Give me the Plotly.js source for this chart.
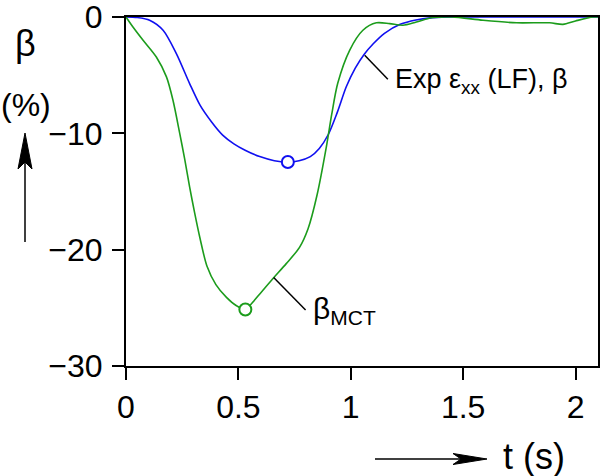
<!DOCTYPE html>
<html>
<head>
<meta charset="utf-8">
<script src="https://cdn.plot.ly/plotly-3.0.1.min.js"></script>
<style>html,body{margin:0;padding:0;background:#fff}#chart{width:600px;height:476px}</style>
</head>
<body>
<div id="chart"></div>
<script>
// Exp eps_xx (LF), beta  (blue)
const expT = [0, 0.05, 0.105, 0.165, 0.224, 0.283, 0.33, 0.38, 0.43, 0.48, 0.53, 0.595, 0.66, 0.72, 0.77, 0.82, 0.86, 0.9, 0.94, 0.98, 1.02, 1.06, 1.1, 1.15, 1.22, 1.29, 1.365, 1.5, 1.7, 1.9, 2.1];
const expBeta = [0, -0.05, -0.28, -1.14, -3.15, -5.72, -7.6, -9.0, -10.15, -10.9, -11.45, -12.0, -12.35, -12.46, -12.35, -12.0, -11.3, -10.1, -8.2, -6.0, -4.4, -3.2, -2.3, -1.4, -0.63, -0.25, -0.05, 0, 0, 0, 0];
// beta_MCT (green)
const mctT = [0, 0.031, 0.076, 0.135, 0.18, 0.209, 0.239, 0.261, 0.283, 0.305, 0.329, 0.36, 0.4, 0.447, 0.49, 0.531, 0.56, 0.6, 0.653, 0.713, 0.772, 0.81, 0.85, 0.891, 0.915, 0.942, 0.995, 1.054, 1.114, 1.173, 1.232, 1.292, 1.365, 1.45, 1.588, 1.737, 1.885, 1.944, 2.0, 2.077, 2.1];
const mctBeta = [0, -0.86, -2.0, -3.44, -5.15, -7.16, -10.0, -12.2, -14.6, -16.8, -19.0, -21.4, -23.0, -24.1, -24.8, -25.14, -24.6, -23.7, -22.5, -21.2, -19.8, -18.2, -15.3, -11.2, -8.4, -5.7, -2.86, -1.14, -0.5, -0.57, -0.71, -0.43, -0.05, 0, -0.28, -0.5, -0.5, -0.63, -0.34, 0, 0];
// marked minima
const expMinT = [0.72], expMinBeta = [-12.46];
const mctMinT = [0.531], mctMinBeta = [-25.14];
// ticks
const xTicks = [0, 0.5, 1, 1.5, 2];
const xTickText = ['0', '0.5', '1', '1.5', '2'];
const yTicks = [0, -10, -20, -30];
const yTickText = ['0', '\u221210', '\u221220', '\u221230'];

const BLUE = '#1010f0', GREEN = '#1c9c1c';
const FONT = 'Liberation Sans, Arial, Helvetica, sans-serif';
const W = 600, H = 476, M = {l: 126, r: 2, t: 17, b: 110};
const PW = W - M.l - M.r, PH = H - M.t - M.b;
const px = x => (x - M.l) / PW;
const py = y => (H - M.b - y) / PH;

const traces = [
  {x: expT, y: expBeta, mode: 'lines', line: {color: BLUE, width: 1.6, shape: 'spline', smoothing: 0.8}, hoverinfo: 'skip'},
  {x: mctT, y: mctBeta, mode: 'lines', line: {color: GREEN, width: 1.6, shape: 'spline', smoothing: 0.8}, hoverinfo: 'skip'},
  {x: expMinT, y: expMinBeta, mode: 'markers', marker: {symbol: 'circle', size: 12, color: '#fff', line: {color: BLUE, width: 2}}},
  {x: mctMinT, y: mctMinBeta, mode: 'markers', marker: {symbol: 'circle', size: 12, color: '#fff', line: {color: GREEN, width: 2}}}
];

const axisCommon = {
  showgrid: false, zeroline: false, showline: true, linecolor: '#000', linewidth: 2,
  mirror: true, ticks: 'outside', ticklen: 12, tickwidth: 2, tickcolor: '#000',
  tickfont: {family: FONT, size: 32, color: '#000'}, fixedrange: true, ticklabeloverflow: 'allow'
};

const layout = {
  width: W, height: H, margin: M, showlegend: false,
  paper_bgcolor: '#fff', plot_bgcolor: '#fff',
  font: {family: FONT, color: '#000'},
  xaxis: Object.assign({}, axisCommon, {range: [0, 2.1], tickmode: 'array', tickvals: xTicks, ticktext: xTickText}),
  yaxis: Object.assign({}, axisCommon, {range: [-30, 0], tickmode: 'array', tickvals: yTicks, ticktext: yTickText, ticklabelstandoff: 3}),
  annotations: [
    {xref: 'paper', yref: 'paper', x: px(25), y: py(44), text: 'β', showarrow: false, xanchor: 'center', yanchor: 'middle', font: {size: 36}},
    {xref: 'paper', yref: 'paper', x: px(26), y: py(105), text: '(%)', showarrow: false, xanchor: 'center', yanchor: 'middle', font: {size: 32}},
    {xref: 'paper', yref: 'paper', x: px(534), y: py(456), text: 't (s)', showarrow: false, xanchor: 'center', yanchor: 'middle', font: {size: 36}},
    {xref: 'x', yref: 'y', x: 1.19, y: -5.5, text: 'Exp ε<sub>xx</sub> (LF), β', showarrow: false, xanchor: 'left', yanchor: 'middle', font: {size: 27}},
    {xref: 'x', yref: 'y', x: 0.823, y: -25.2, text: 'β<sub>MCT</sub>', showarrow: false, xanchor: 'left', yanchor: 'middle', font: {size: 30}}
  ],
  shapes: [
    {type: 'line', xref: 'x', yref: 'y', x0: 1.062, y0: -3.29, x1: 1.165, y1: -5.35, line: {color: '#000', width: 1.5}},
    {type: 'line', xref: 'x', yref: 'y', x0: 0.657, y0: -22.4, x1: 0.799, y1: -25.19, line: {color: '#000', width: 1.5}},
    {type: 'line', xref: 'paper', yref: 'paper', x0: px(25), y0: py(242), x1: px(25), y1: py(155), line: {color: '#000', width: 1.5}},
    {type: 'path', xref: 'paper', yref: 'paper',
      path: `M ${px(25)} ${py(133)} L ${px(32)} ${py(169)} L ${px(25)} ${py(162)} L ${px(18)} ${py(169)} Z`,
      fillcolor: '#000', line: {color: '#000', width: 1}},
    {type: 'line', xref: 'paper', yref: 'paper', x0: px(375), y0: py(459), x1: px(465), y1: py(459), line: {color: '#000', width: 1.5}},
    {type: 'path', xref: 'paper', yref: 'paper',
      path: `M ${px(487)} ${py(459)} L ${px(453)} ${py(453.5)} L ${px(461)} ${py(459)} L ${px(453)} ${py(464.5)} Z`,
      fillcolor: '#000', line: {color: '#000', width: 1}}
  ]
};

Plotly.newPlot('chart', traces, layout, {staticPlot: true, displayModeBar: false});
</script>
</body>
</html>
